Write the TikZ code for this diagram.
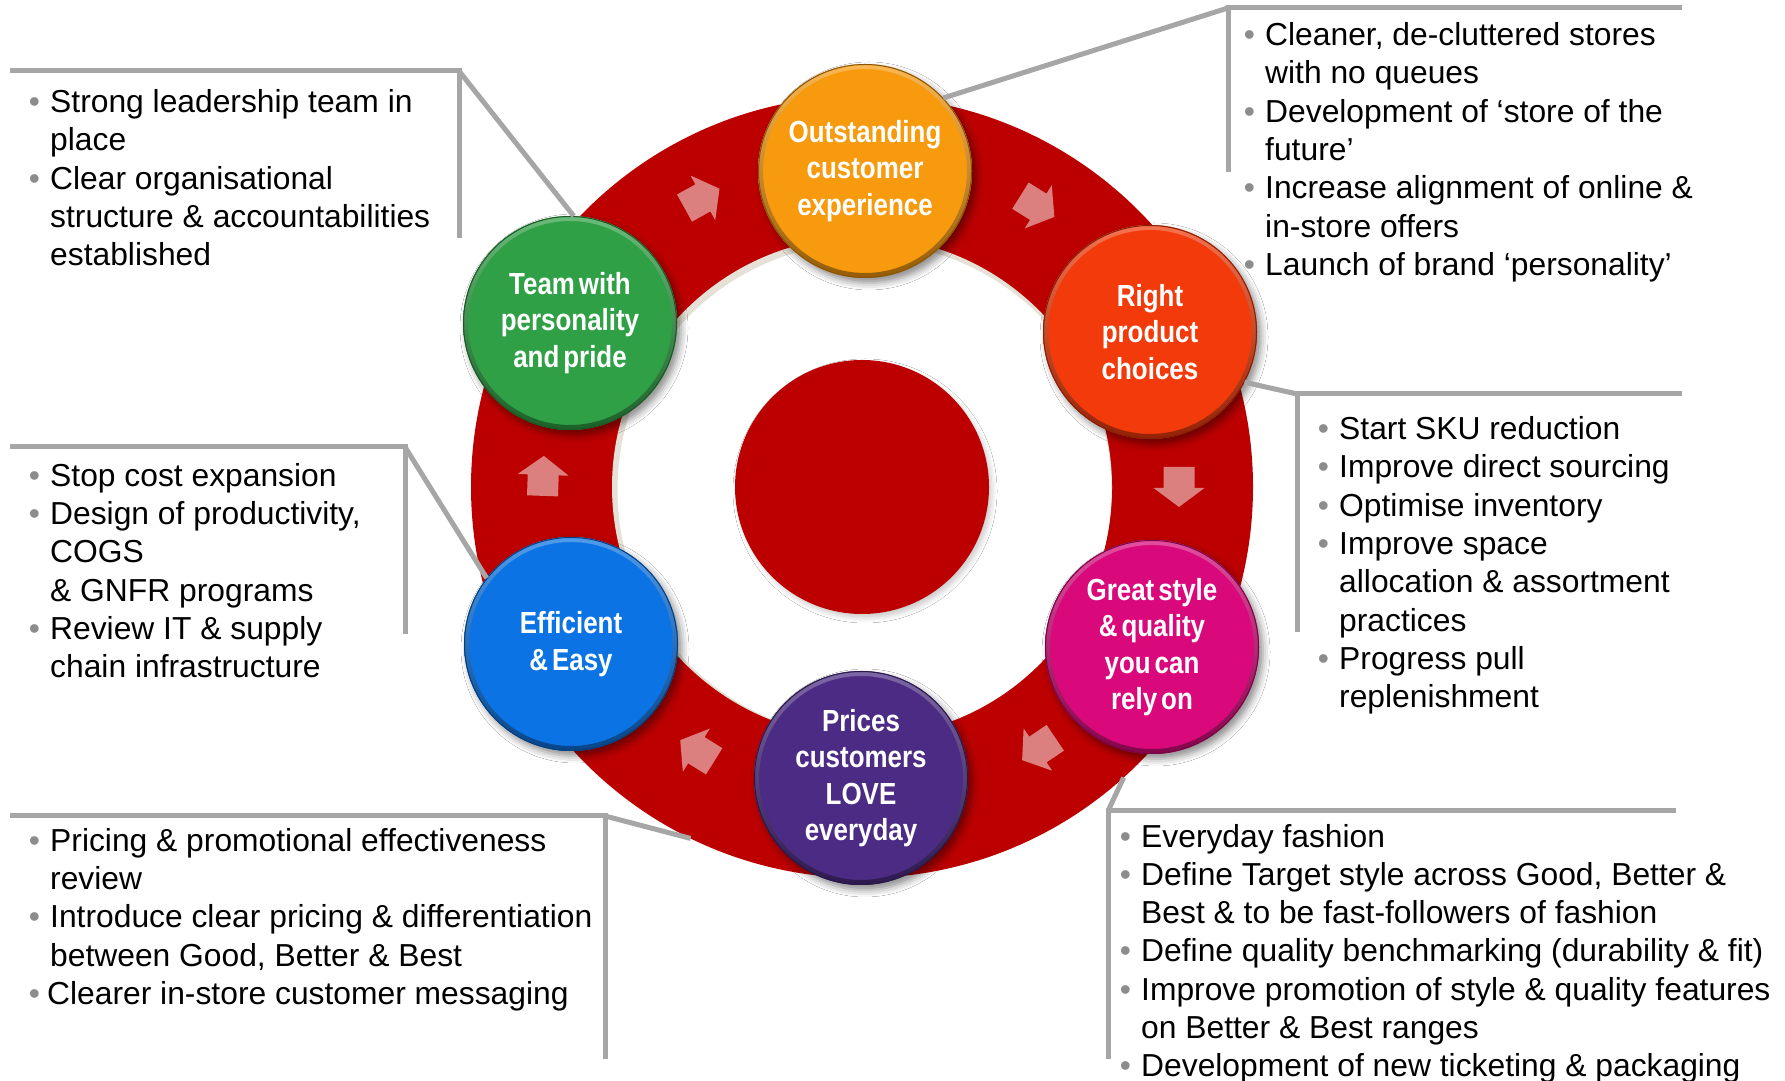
\documentclass[tikz,border=0pt]{standalone}
\usepackage{fontspec}
\setmainfont{Liberation Sans}
\newfontfamily\ballfont[FakeStretch=0.85,WordSpace=0.55]{Liberation Sans Bold}
\usetikzlibrary{shadows.blur}
\definecolor{ringred}{HTML}{BC0000}
\definecolor{ringshade}{HTML}{E6E1D6}
\definecolor{arrowpink}{HTML}{DB7F7F}
\definecolor{callgrey}{HTML}{A6A6A6}
\definecolor{bulletgrey}{HTML}{8C8C8C}
\definecolor{orangeball}{HTML}{F89A0E}
\definecolor{redball}{HTML}{F33A0A}
\definecolor{pinkball}{HTML}{D9087B}
\definecolor{purpleball}{HTML}{4B2B83}
\definecolor{blueball}{HTML}{0B73E4}
\definecolor{greenball}{HTML}{2FA045}
\newcommand\bl{\makebox[16pt][l]{\hspace*{-5.4pt}\textcolor{bulletgrey}{•}}}
\newcommand\ind{\hspace*{16pt}}
\begin{document}
\begin{tikzpicture}[x=1pt,y=1pt]
  \tikzset{
    ball/.style={circle, inner sep=0pt, outer sep=0pt, minimum size=214pt, text=white, align=center,
      font=\ballfont\fontsize{30.5}{36.3}\selectfont,
      blur shadow={shadow xshift=4pt, shadow yshift=-5pt, shadow blur radius=7pt, shadow opacity=45}},
    callout/.style={draw=callgrey, line width=5pt},
    note/.style={anchor=north west, inner sep=0pt, align=left, font=\fontsize{31.8}{38.3}\selectfont},
  }
  \useasboundingbox (0,0) rectangle (1785,1081);
  \fill[white] (0,0) rectangle (1785,1081);
  % ring and hub
  \coordinate (C) at (862,594);
  \node[circle, fill=ringred, inner sep=0pt, outer sep=0pt, minimum size=782pt] (ring) at (C) {};
  \fill[ringshade] (C) circle[radius=250pt];
  \fill[white] ([shift={(2.5,-3)}]C) circle[radius=247pt];
  \node[circle, fill=ringred, inner sep=0pt, minimum size=254pt,
    blur shadow={shadow xshift=3pt, shadow yshift=-4pt, shadow blur radius=5pt, shadow opacity=20}] (hub) at (C) {};
  % arrows on the ring, clockwise
  \foreach \a/\r in {119/330, 58/331, 0/317, -56/316, -122/311, 178/319}
    \fill[arrowpink, shift={(C)}, rotate=\a, shift={(\r,0)}, rotate=-90]
      (-20,-15.5) -- (1,-15.5) -- (1,-25.5) -- (20,0) -- (1,25.5) -- (1,15.5) -- (-20,15.5) -- cycle;
  % the six balls
  \node[ball, fill=orangeball] (O) at (865,910) {Outstanding\\customer\\experience};
  \node[ball, fill=redball] (R) at (1150,749) {Right\\product\\choices};
  \node[ball, fill=pinkball] (M) at (1152,434) {Great style\\\& quality\\you can\\rely on};
  \node[ball, fill=purpleball] (P) at (861,303) {Prices\\customers\\LOVE\\everyday};
  \node[ball, fill=blueball] (B) at (571,437) {Efficient\\\& Easy};
  \node[ball, fill=greenball] (G) at (570,758) {Team with\\personality\\and pride};
  \foreach \b/\c in {O/orangeball, R/redball, M/pinkball, P/purpleball, B/blueball, G/greenball}{
    \shade[even odd rule, top color=\c!72!white, bottom color=\c!60!black]
      (\b.center) circle[radius=107pt] (\b.center) circle[radius=102pt];
    \draw[\c!55!black, line width=1pt] (\b.center) circle[radius=106.5pt];
  }
  % callout lines
  \coordinate (k1a) at (10,1010);  \coordinate (k1) at (459,1010);  \coordinate (k1b) at (459,843);
  \coordinate (k2a) at (1682,1073); \coordinate (k2) at (1228,1073); \coordinate (k2b) at (1228,909);
  \coordinate (k3a) at (1682,687);  \coordinate (k3) at (1297,687);  \coordinate (k3b) at (1297,449);
  \coordinate (k4a) at (10,634);   \coordinate (k4) at (405,634);   \coordinate (k4b) at (405,447);
  \coordinate (k5a) at (10,265);   \coordinate (k5) at (605,265);   \coordinate (k5b) at (605,22);
  \coordinate (k6a) at (1676,270); \coordinate (k6) at (1108,270);  \coordinate (k6b) at (1108,22);
  \draw[callout] (k1a) -- (k1) -- (k1b);  \draw[callout] (k1) -- (G.88);
  \draw[callout] (k2a) -- (k2) -- (k2b);  \draw[callout] (k2) -- (O.43);
  \draw[callout] (k3a) -- (k3) -- (k3b);  \draw[callout] (k3) -- (R.-28);
  \draw[callout] (k4a) -- (k4) -- (k4b);  \draw[callout] (k4) -- (B.142);
  \draw[callout] (k5a) -- (k5) -- (k5b);  \draw[callout] (k5) -- (ring.244);
  \draw[callout] (k6a) -- (k6) -- (k6b);  \draw[callout] (k6) -- (ring.-48);
  % bullet texts
  \node[note] (n1) at (34,991.6) {\bl Strong leadership team in\\\ind place\\\bl Clear organisational\\\ind structure \& accountabilities\\\ind established};
  \node[note] (n2) at (1249,1058.6) {\bl Cleaner, de-cluttered stores\\\ind with no queues\\\bl Development of ‘store of the\\\ind future’\\\bl Increase alignment of online \&\\\ind in-store offers\\\bl Launch of brand ‘personality’};
  \node[note] (n3) at (1323,664.6) {\bl Start SKU reduction\\\bl Improve direct sourcing\\\bl Optimise inventory\\\bl Improve space\\\ind allocation \& assortment\\\ind practices\\\bl Progress pull\\\ind replenishment};
  \node[note] (n4) at (34,618.1) {\bl Stop cost expansion\\\bl Design of productivity,\\\ind COGS\\\ind\& GNFR programs\\\bl Review IT \& supply\\\ind chain infrastructure};
  \node[note] (n5) at (34,253) {\bl Pricing \& promotional effectiveness\\\ind review\\\bl Introduce clear pricing \& differentiation\\\ind between Good, Better \& Best\\\bl\hspace*{-3pt}Clearer in-store customer messaging};
  \node[note] (n6) at (1125,257.2) {\bl Everyday fashion\\\bl Define Target style across Good, Better \&\\\ind Best \& to be fast-followers of fashion\\\bl Define quality benchmarking (durability \& fit)\\\bl Improve promotion of style \& quality features\\\ind on Better \& Best ranges\\\bl Development of new ticketing \& packaging};
\end{tikzpicture}
\end{document}
